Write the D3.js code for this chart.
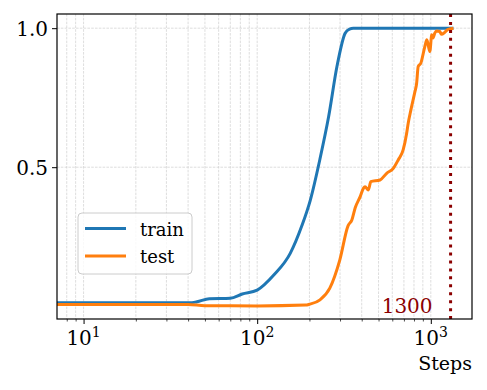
<!DOCTYPE html>
<html>
<head>
<meta charset="utf-8">
<script src="https://d3js.org/d3.v7.min.js"></script>
<style>
  body { margin: 0; background: #fff; }
  svg text { font-family: "DejaVu Serif", serif; }
</style>
</head>
<body>
<div id="chart"></div>
<script>
// values
var trainSteps = [7, 41, 45, 53, 70, 82, 100, 125, 155, 181, 202, 230, 258, 288, 321, 340, 358, 1350];
var trainAcc   = [0.012, 0.012, 0.016, 0.027, 0.029, 0.044, 0.058, 0.113, 0.19, 0.29, 0.38, 0.53, 0.682, 0.862, 0.982, 0.997, 1.0, 1.0];

var testSteps = [7, 40, 50, 100, 190, 200, 230, 262, 299, 334, 351, 367, 392, 409, 418, 437, 451, 510, 557, 608, 649, 693, 726, 741, 768, 809, 828, 846, 876, 924, 949, 987, 1013, 1030, 1054, 1080, 1127, 1150, 1203, 1250, 1285, 1350];
var testAcc   = [0.006, 0.006, 0.002, 0.001, 0.004, 0.007, 0.023, 0.065, 0.166, 0.29, 0.31, 0.354, 0.394, 0.424, 0.43, 0.418, 0.448, 0.454, 0.478, 0.496, 0.526, 0.562, 0.622, 0.658, 0.706, 0.77, 0.80, 0.862, 0.874, 0.934, 0.958, 0.916, 0.976, 0.965, 0.982, 0.99, 0.988, 0.978, 0.985, 0.995, 0.997, 1.0];

var yTicks = [0.5, 1.0];
var xMajor = [10, 100, 1000];
var markStep = 1300;
var seriesNames = ["train", "test"];
var seriesColors = ["#1f77b4", "#ff7f0e"];

var W = 487, H = 390;
var margin = {top: 14, right: 15, bottom: 71, left: 57};
var width = W - margin.left - margin.right,
    height = H - margin.top - margin.bottom;

var x = d3.scaleLog().domain([7.03, 1727]).range([0, width]);
var y = d3.scaleLinear().domain([-0.046, 1.051]).range([height, 0]);

var svg = d3.select("#chart").append("svg")
    .attr("width", W).attr("height", H)
  .append("g")
    .attr("transform", "translate(" + margin.left + "," + margin.top + ")");

svg.append("defs").append("clipPath").attr("id", "plot-clip")
  .append("rect").attr("width", width).attr("height", height);

// minor ticks for log axis
var xMinor = [];
[1, 10, 100, 1000].forEach(function(dec){
  for (var k = 2; k <= 9; k++) {
    var v = dec * k;
    if (v > x.domain()[0] && v < x.domain()[1]) xMinor.push(v);
  }
});

// grid
var grid = svg.append("g").attr("class", "grid");
grid.selectAll(".vg").data(xMajor.concat(xMinor)).enter().append("line")
    .attr("x1", d => x(d)).attr("x2", d => x(d))
    .attr("y1", 0).attr("y2", height)
    .attr("stroke", "#cfcfcf").attr("stroke-width", 0.7)
    .attr("stroke-dasharray", "2.6,1.2");
grid.selectAll(".hg").data(yTicks).enter().append("line")
    .attr("x1", 0).attr("x2", width)
    .attr("y1", d => y(d)).attr("y2", d => y(d))
    .attr("stroke", "#cfcfcf").attr("stroke-width", 0.7)
    .attr("stroke-dasharray", "2.6,1.2");

// lines
var line = d3.line()
    .curve(d3.curveMonotoneX)
    .x(d => x(d[0]))
    .y(d => y(d[1]));

var lines = svg.append("g").attr("clip-path", "url(#plot-clip)");
var series = [
  trainSteps.map((s, i) => [s, trainAcc[i]]),
  testSteps.map((s, i) => [s, testAcc[i]])
];
lines.selectAll("path").data(series).enter().append("path")
    .attr("d", line)
    .attr("fill", "none")
    .attr("stroke", (d, i) => seriesColors[i])
    .attr("stroke-width", 3)
    .attr("stroke-linejoin", "round");

// vertical marker
svg.append("line")
    .attr("x1", x(markStep)).attr("x2", x(markStep))
    .attr("y1", 0).attr("y2", height)
    .attr("stroke", "#8b0000").attr("stroke-width", 3)
    .attr("stroke-dasharray", "3,4.95");

svg.append("text")
    .attr("x", x(markStep) - 18).attr("y", height - 6)
    .attr("text-anchor", "end")
    .attr("fill", "#8b0000")
    .style("font-size", "20px")
    .text(markStep);

// axes
var xAxis = d3.axisBottom(x).tickValues(xMajor).tickSize(5).tickFormat("");
var gX = svg.append("g").attr("transform", "translate(0," + height + ")").call(xAxis);
gX.select(".domain").remove();
gX.selectAll("line").attr("stroke", "#000").attr("stroke-width", 1);

var xMinorAxis = d3.axisBottom(x).tickValues(xMinor).tickSize(2.5).tickFormat("");
var gXm = svg.append("g").attr("transform", "translate(0," + height + ")").call(xMinorAxis);
gXm.select(".domain").remove();
gXm.selectAll("line").attr("stroke", "#000").attr("stroke-width", 0.7);

// 10^n labels
var lab = svg.append("g");
xMajor.forEach(function(v){
  var t = lab.append("text")
      .attr("x", x(v)).attr("y", height + 26)
      .attr("text-anchor", "middle")
      .style("font-size", "20px");
  t.append("tspan").text("10");
  t.append("tspan").attr("dy", -8).style("font-size", "14px").text(Math.round(Math.log10(v)));
});

var yAxis = d3.axisLeft(y).tickValues(yTicks).tickSize(5).tickPadding(4).tickFormat(d3.format(".1f"));
var gY = svg.append("g").call(yAxis);
gY.select(".domain").remove();
gY.selectAll("line").attr("stroke", "#000").attr("stroke-width", 1);
gY.selectAll("text").attr("font-family", null).attr("fill", "#000").style("font-size", "20px").attr("dy", "0.37em");

// frame
svg.append("rect")
    .attr("width", width).attr("height", height)
    .attr("fill", "none").attr("stroke", "#000").attr("stroke-width", 1.2);

svg.append("text")
    .attr("x", width).attr("y", height + 51)
    .attr("text-anchor", "end")
    .style("font-size", "19px")
    .text("Steps");

// legend
var leg = svg.append("g").attr("transform", "translate(" + (78 - margin.left) + "," + (213 - margin.top) + ")");
leg.append("rect")
    .attr("width", 114).attr("height", 61).attr("rx", 4)
    .attr("fill", "#fff").attr("fill-opacity", 0.8)
    .attr("stroke", "#cccccc").attr("stroke-width", 1);
seriesNames.forEach(function(name, i){
  var yy = 15.5 + i * 27.5;
  leg.append("line")
      .attr("x1", 7).attr("x2", 48).attr("y1", yy).attr("y2", yy)
      .attr("stroke", seriesColors[i]).attr("stroke-width", 3);
  leg.append("text")
      .attr("x", 62).attr("y", yy + 7)
      .style("font-size", "18px")
      .text(name);
});
</script>
</body>
</html>
